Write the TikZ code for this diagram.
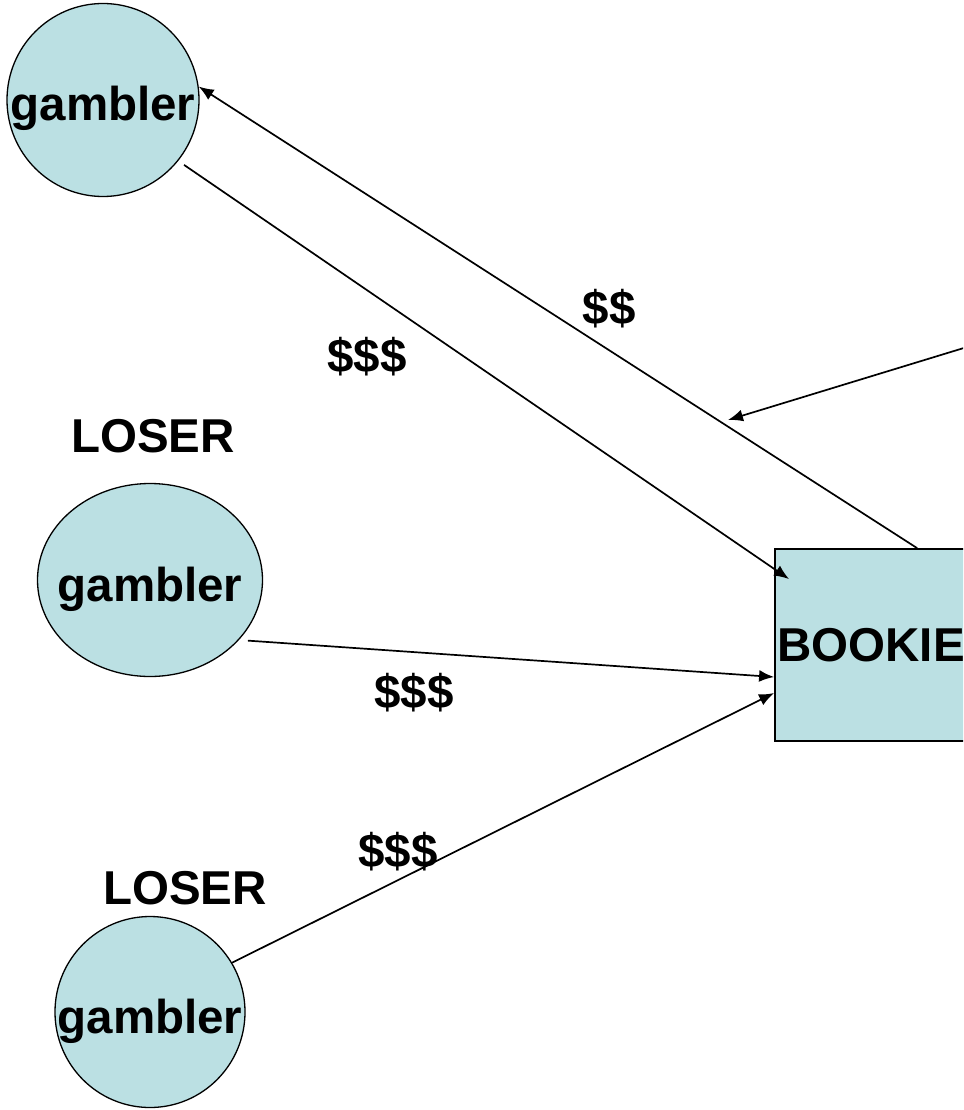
\documentclass[tikz,border=0pt]{standalone}
\usepackage{fontspec}
\setmainfont{Liberation Sans}
\usetikzlibrary{arrows.meta,shapes.geometric,calc}
\definecolor{gamblerblue}{RGB}{187,224,227}
\tikzset{
        gambler/.style = {draw, ellipse, fill=gamblerblue,
            line width=1.3pt, inner sep=0pt},
        bookie/.style = {draw, rectangle, fill=gamblerblue,
            line width=1.8pt, inner sep=0pt,
            minimum width=192pt, minimum height=192pt},
        lbl/.style = {font=\fontsize{47.5}{50}\selectfont\bfseries, inner sep=0pt},
        word/.style = {lbl, text height=42pt, text depth=0pt},
        arrow/.style = {draw, line width=1.7pt, -{Latex[length=15pt,width=12pt]}},
    }

\begin{document}
\begin{tikzpicture}[x=1pt,y=-1pt]
    \useasboundingbox (0,0) rectangle (963,1110);
    \clip (0,0) rectangle (963,1110);

    % the three gamblers
    \node[gambler, minimum width=192pt, minimum height=193pt] (gamblerA) at (103,100) {};
    \node[gambler, minimum width=225pt, minimum height=193pt] (gamblerB) at (150,580) {};
    \node[gambler, minimum width=190pt, minimum height=191pt] (gamblerC) at (150,1012) {};
    \node[word] (nameA) at (gamblerA) {gambler};
    \node[word] (nameB) at (gamblerB) {gambler};
    \node[word] (nameC) at (gamblerC) {gambler};

    \node[lbl] (loserB) at (153,436) {LOSER};
    \node[lbl] (loserC) at (185,888) {LOSER};

    % the bookie
    \node[bookie, lbl] (bookie) at (871,645) {BOOKIE};

    \coordinate (offRight) at (990,340);
    \coordinate (tipRight) at (728,420);

    \draw[arrow] ([xshift=143pt]bookie.north west) -- (gamblerA.8);
    \draw[arrow, shorten <=7pt] (gamblerA.-39) -- ([xshift=15pt,yshift=-31pt]bookie.north west);
    \draw[arrow, shorten <=9pt] (gamblerB.-34) -- ([yshift=-32pt]bookie.west);
    \draw[arrow] (gamblerC.31) -- ([yshift=-48pt]bookie.west);
    \draw[arrow] (offRight) -- (tipRight);

    % money labels
    \node[lbl] (payA) at (609,309) {\$\$};
    \node[lbl] (betA) at (367,357) {\$\$\$};
    \node[lbl] (betB) at (414,693) {\$\$\$};
    \node[lbl] (betC) at (398,852) {\$\$\$};
\end{tikzpicture}
\end{document}
